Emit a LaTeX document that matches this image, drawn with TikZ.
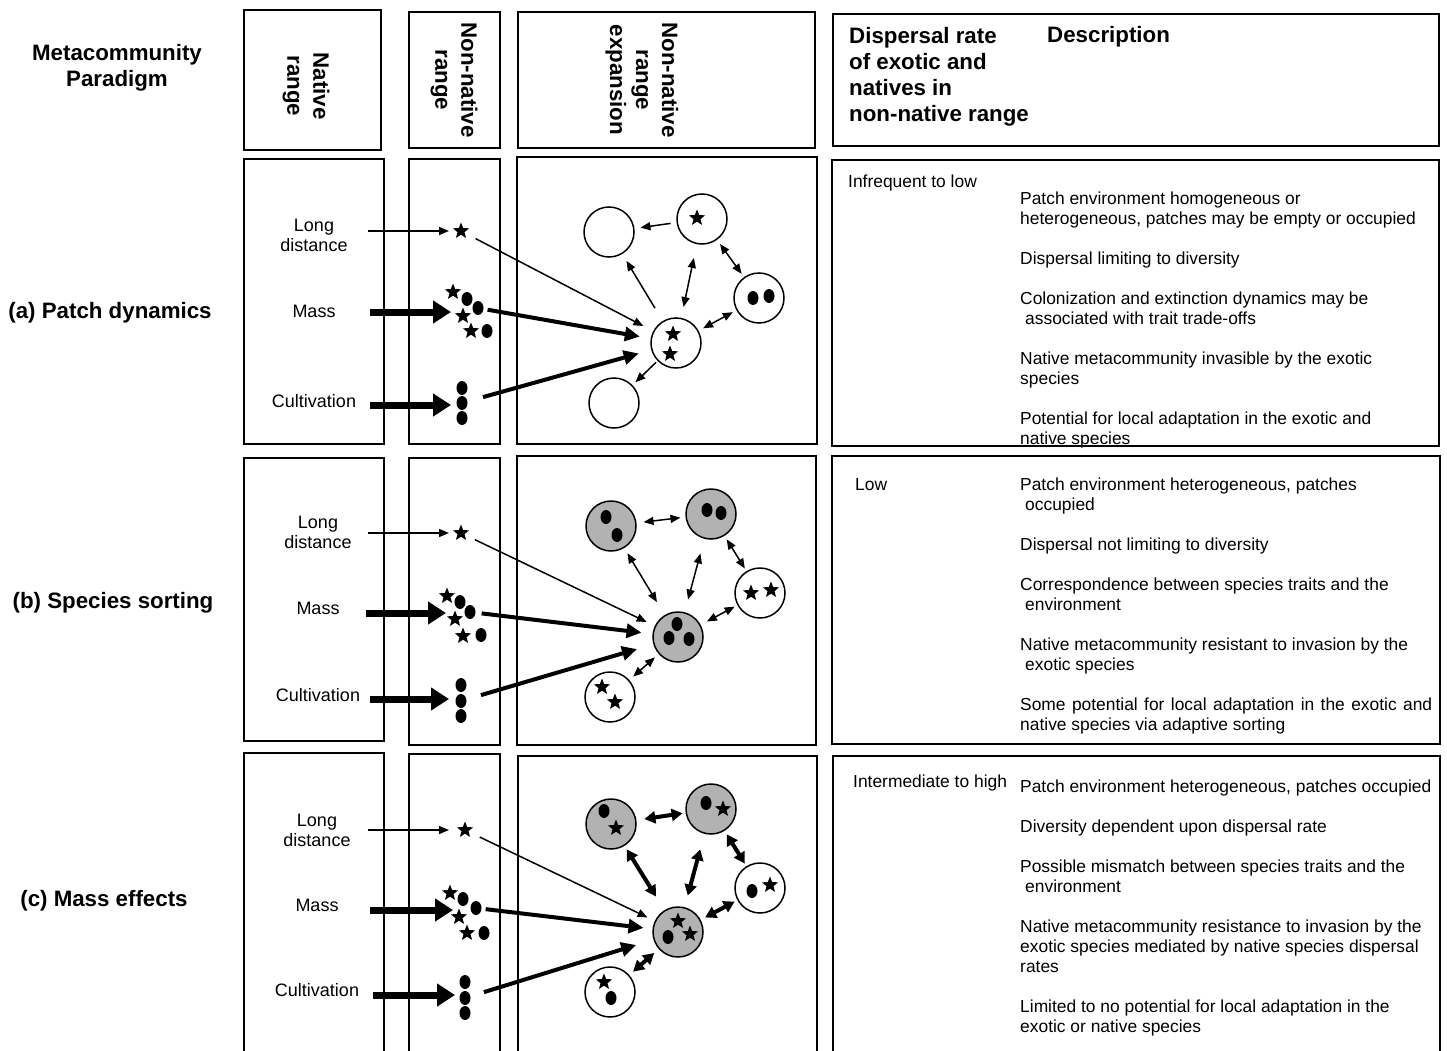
\documentclass[tikz,border=0pt]{standalone}
\usepackage{fontspec}
\setmainfont{Liberation Sans}
\usetikzlibrary{arrows.meta,shapes.geometric}

\begin{document}
\begin{tikzpicture}[x=1pt,y=-1pt,
  frame/.style={line width=1.6pt},
  head/.style={font=\bfseries\fontsize{22.3}{26}\selectfont,align=center,inner sep=0pt},
  lbl/.style={font=\fontsize{18}{20}\selectfont,align=center,inner sep=0pt},
  txt/.style={font=\fontsize{17.4}{20}\selectfont,align=left,anchor=north west,inner sep=0pt},
  patch/.style={circle,draw,line width=1.5pt,minimum size=50pt,inner sep=0pt},
  full/.style={patch,fill=black!30},
  exo/.style={star,star points=5,star point ratio=2.3,fill,minimum size=17pt,inner sep=0pt},
  nat/.style={ellipse,fill,minimum width=11pt,minimum height=14pt,inner sep=0pt},
  flow/.style={line width=1.5pt,-{Triangle[length=10pt,width=8pt]}},
  bulk/.style={line width=7pt,-{Triangle[length=18pt,width=22pt]}},
  heavy/.style={line width=4pt,-{Triangle[length=15pt,width=14pt]}},
  hop/.style={line width=1.5pt,-{Triangle[length=10pt,width=8pt]},shorten <=6pt,shorten >=6pt},
  link/.style={line width=1.5pt,{Triangle[length=10pt,width=8pt]}-{Triangle[length=10pt,width=8pt]},shorten <=6pt,shorten >=6pt},
  strong/.style={line width=4pt,{Triangle[length=11pt,width=12pt]}-{Triangle[length=11pt,width=12pt]},shorten <=6pt,shorten >=6pt}]
  \useasboundingbox (0,0) rectangle (1447,1051);

  % header row
  \draw[frame] (244,10) rectangle (381,150);
  \draw[frame] (409,12) rectangle (500,148);
  \draw[frame] (518,12) rectangle (815,148);
  \draw[frame] (833,14) rectangle (1439,146);
  \node[head] (meta) at (117,68) {Metacommunity\\Paradigm};
  \node[head,rotate=-90] (hNat) at (306,86) {Native\\range};
  \node[head,rotate=-90] (hNon) at (454,80) {Non-native\\range};
  \node[head,rotate=-90] (hExp) at (642,80) {Non-native\\range\\expansion};
  \node[head,align=left,anchor=north west] (hRate) at (849,25)
    {\strut Dispersal rate\\of exotic and\\natives in\\non-native range};
  \node[head,anchor=base west] (hDesc) at (1047,43) {Description};

  % (a) patch dynamics
  \draw[frame] (244,159) rectangle (384,444);
  \draw[frame] (409,159) rectangle (500,444);
  \draw[frame] (517,157) rectangle (817,444);
  \draw[frame] (832,160) rectangle (1439,446);
  \node[head,anchor=base] (aName) at (110,318) {(a) Patch dynamics};
  \node[lbl] (aLD) at (314,235) {Long\\distance};
  \node[lbl,anchor=base] (aMs) at (314,317.5) {Mass};
  \node[lbl,anchor=base] (aCu) at (314,407.5) {Cultivation};
  \node[exo] (aS) at (461,231) {};
  \node[exo] (aM1) at (453,292) {};
  \node[nat] (aM2) at (467,299) {};
  \node[nat] (aM3) at (478,308) {};
  \node[exo] (aM4) at (463,316) {};
  \node[exo] (aM5) at (471,331) {};
  \node[nat] (aM6) at (487,331) {};
  \node[nat] (aV1) at (462,388) {};
  \node[nat] (aV2) at (462,403) {};
  \node[nat] (aV3) at (462,418) {};
  \coordinate (aT1) at (368,231);
  \coordinate (aT2) at (370,312);
  \coordinate (aT3) at (370,405);
  \draw[flow,shorten >=12pt] (aT1) -- (aT1 -| aS);
  \draw[bulk,shorten >=12pt] (aT2) -- (aT2 -| aM4);
  \draw[bulk,shorten >=11pt] (aT3) -- (aT3 -| aV2);
  \node[patch] (aP1) at (609,232) {};
  \node[patch] (aP2) at (702,219) {};
  \node[exo] (aP2a) at (697,218) {};
  \node[patch] (aP3) at (759,298) {};
  \node[nat] (aP3a) at (753,298) {};
  \node[nat] (aP3b) at (769,296) {};
  \node[patch] (aC) at (676,343) {};
  \node[exo] (aCa) at (673,334) {};
  \node[exo] (aCb) at (670,354) {};
  \node[patch] (aP4) at (614,403) {};
  \draw[flow,shorten <=12pt,shorten >=11pt] (aS) -- (aC);
  \draw[heavy,shorten <=4pt,shorten >=11pt] (aM3) -- (aC);
  \draw[heavy,shorten <=16pt,shorten >=13pt] (aV2) -- (aC);
  \draw[hop] (aP2) -- (aP1);
  \draw[hop,shorten <=15pt,shorten >=8pt] (aC) -- (aP1);
  \draw[link,shorten <=11pt,shorten >=14pt] (aC) -- (aP2);
  \draw[link,shorten <=5pt,shorten >=4pt] (aP2) -- (aP3);
  \draw[link,shorten <=5pt,shorten >=4pt] (aC) -- (aP3);
  \draw[hop,shorten <=2pt,shorten >=4pt] (aC) -- (aP4);
  \node[txt] (aRate) at (848,173) {\strut Infrequent to low};
  \node[txt] (aDesc) at (1020,190) {\strut Patch environment homogeneous or\\
    heterogeneous, patches may be empty or occupied\\[20pt]
    Dispersal limiting to diversity\\[20pt]
    Colonization and extinction dynamics may be\\
    \hspace*{5pt}associated with trait trade-offs\\[20pt]
    Native metacommunity invasible by the exotic\\
    species\\[20pt]
    Potential for local adaptation in the exotic and\\
    native species};

  % (b) species sorting
  \draw[frame] (244,458) rectangle (384,741);
  \draw[frame] (409,458) rectangle (500,745);
  \draw[frame] (517,456) rectangle (816,745);
  \draw[frame] (832,456) rectangle (1440,744);
  \node[head,anchor=base] (bName) at (113,608) {(b) Species sorting};
  \node[lbl] (bLD) at (318,532.5) {Long\\distance};
  \node[lbl,anchor=base] (bMs) at (318,614.5) {Mass};
  \node[lbl,anchor=base] (bCu) at (318,701.5) {Cultivation};
  \node[exo] (bS) at (461,533) {};
  \node[exo] (bM1) at (447,596) {};
  \node[nat] (bM2) at (460,602) {};
  \node[nat] (bM3) at (470,612) {};
  \node[exo] (bM4) at (455,619) {};
  \node[exo] (bM5) at (463,636) {};
  \node[nat] (bM6) at (481,635) {};
  \node[nat] (bV1) at (461,685) {};
  \node[nat] (bV2) at (461,701) {};
  \node[nat] (bV3) at (461,716) {};
  \coordinate (bT1) at (368,533);
  \coordinate (bT2) at (366,613);
  \coordinate (bT3) at (370,699);
  \draw[flow,shorten >=12pt] (bT1) -- (bT1 -| bS);
  \draw[bulk,shorten >=9pt] (bT2) -- (bT2 -| bM4);
  \draw[bulk,shorten >=12pt] (bT3) -- (bT3 -| bV2);
  \node[full] (bP1) at (611,526) {};
  \node[nat] (bP1a) at (606,517) {};
  \node[nat] (bP1b) at (617,535) {};
  \node[full] (bP2) at (711,514) {};
  \node[nat] (bP2a) at (707,510) {};
  \node[nat] (bP2b) at (721,513) {};
  \node[patch] (bP3) at (760,593) {};
  \node[exo] (bP3a) at (751,593) {};
  \node[exo] (bP3b) at (771,590) {};
  \node[full] (bC) at (678,637) {};
  \node[nat] (bCa) at (677,624) {};
  \node[nat] (bCb) at (669,638) {};
  \node[nat] (bCc) at (689,639) {};
  \node[patch] (bP4) at (610,697) {};
  \node[exo] (bP4a) at (602,687) {};
  \node[exo] (bP4b) at (615,702) {};
  \draw[flow,shorten <=11pt,shorten >=9pt] (bS) -- (bC);
  \draw[heavy,shorten <=6pt,shorten >=11pt] (bM3) -- (bC);
  \draw[heavy,shorten <=15pt,shorten >=17pt] (bV2) -- (bC);
  \draw[link,shorten <=7pt,shorten >=5pt] (bP1) -- (bP2);
  \draw[link,shorten <=6pt,shorten >=15pt] (bP1) -- (bC);
  \draw[link,shorten <=15pt,shorten >=13pt] (bP2) -- (bC);
  \draw[link,shorten <=4pt,shorten >=3pt] (bP2) -- (bP3);
  \draw[link,shorten <=3pt,shorten >=7pt] (bP3) -- (bC);
  \draw[link,shorten <=5pt,shorten >=5pt] (bC) -- (bP4);
  \node[txt] (bRate) at (855,476) {\strut Low};
  \node[txt] (bDesc) at (1020,476) {\strut Patch environment heterogeneous, patches\\
    \hspace*{5pt}occupied\\[20pt]
    Dispersal not limiting to diversity\\[20pt]
    Correspondence between species traits and the\\
    \hspace*{5pt}environment\\[20pt]
    Native metacommunity resistant to invasion by the\\
    \hspace*{5pt}exotic species\\[20pt]
    \hbox to 412pt{Some potential for local adaptation in the exotic and}\\
    native species via adaptive sorting};

  % (c) mass effects
  \draw[frame] (244,1051) |- (384,753) -- (384,1051);
  \draw[frame] (409,1051) |- (500,754) -- (500,1051);
  \draw[frame] (518,1051) |- (817,756) -- (817,1051);
  \draw[frame] (833,1051) |- (1440,756) -- (1440,1051);
  \node[head,anchor=base] (cName) at (104,906) {(c) Mass effects};
  \node[lbl] (cLD) at (317,830) {Long\\distance};
  \node[lbl,anchor=base] (cMs) at (317,911.5) {Mass};
  \node[lbl,anchor=base] (cCu) at (317,996.5) {Cultivation};
  \node[exo] (cS) at (465,830) {};
  \node[exo] (cM1) at (450,893) {};
  \node[nat] (cM2) at (463,899) {};
  \node[nat] (cM3) at (476,908) {};
  \node[exo] (cM4) at (459,917) {};
  \node[exo] (cM5) at (467,933) {};
  \node[nat] (cM6) at (484,933) {};
  \node[nat] (cV1) at (465,982) {};
  \node[nat] (cV2) at (465,998) {};
  \node[nat] (cV3) at (465,1013) {};
  \coordinate (cT1) at (368,830);
  \coordinate (cT2) at (370,910);
  \coordinate (cT3) at (373,995);
  \draw[flow,shorten >=16pt] (cT1) -- (cT1 -| cS);
  \draw[bulk,shorten >=6pt] (cT2) -- (cT2 -| cM4);
  \draw[bulk,shorten >=10pt] (cT3) -- (cT3 -| cV2);
  \node[full] (cP1) at (611,824) {};
  \node[nat] (cP1a) at (604,811) {};
  \node[exo] (cP1b) at (616,828) {};
  \node[full] (cP2) at (711,809) {};
  \node[nat] (cP2a) at (706,803) {};
  \node[exo] (cP2b) at (723,809) {};
  \node[patch] (cP3) at (760,888) {};
  \node[nat] (cP3a) at (752,891) {};
  \node[exo] (cP3b) at (770,885) {};
  \node[full] (cC) at (678,932) {};
  \node[exo] (cCa) at (678,921) {};
  \node[nat] (cCb) at (668,937) {};
  \node[exo] (cCc) at (690,934) {};
  \node[patch] (cP4) at (610,992) {};
  \node[exo] (cP4a) at (604,982) {};
  \node[nat] (cP4b) at (611,998) {};
  \draw[flow,shorten <=12pt,shorten >=8pt] (cS) -- (cC);
  \draw[heavy,shorten <=4pt,shorten >=9pt] (cM3) -- (cC);
  \draw[heavy,shorten <=14pt,shorten >=18pt] (cV2) -- (cC);
  \draw[strong,shorten <=8pt,shorten >=3pt] (cP1) -- (cP2);
  \draw[strong,shorten <=4pt,shorten >=16pt] (cP1) -- (cC);
  \draw[strong,shorten <=16pt,shorten >=12pt] (cP2) -- (cC);
  \draw[strong,shorten <=4pt,shorten >=3pt] (cP2) -- (cP3);
  \draw[strong,shorten <=3pt,shorten >=5pt] (cP3) -- (cC);
  \draw[strong,shorten <=6pt,shorten >=5pt] (cC) -- (cP4);
  \node[txt] (cRate) at (853,773) {\strut Intermediate to high};
  \node[txt] (cDesc) at (1020,778) {\strut Patch environment heterogeneous, patches occupied\\[20pt]
    Diversity dependent upon dispersal rate\\[20pt]
    Possible mismatch between species traits and the\\
    \hspace*{5pt}environment\\[20pt]
    Native metacommunity resistance to invasion by the\\
    exotic species mediated by native species dispersal\\
    rates\\[20pt]
    Limited to no potential for local adaptation in the\\
    exotic or native species};
\end{tikzpicture}
\end{document}
